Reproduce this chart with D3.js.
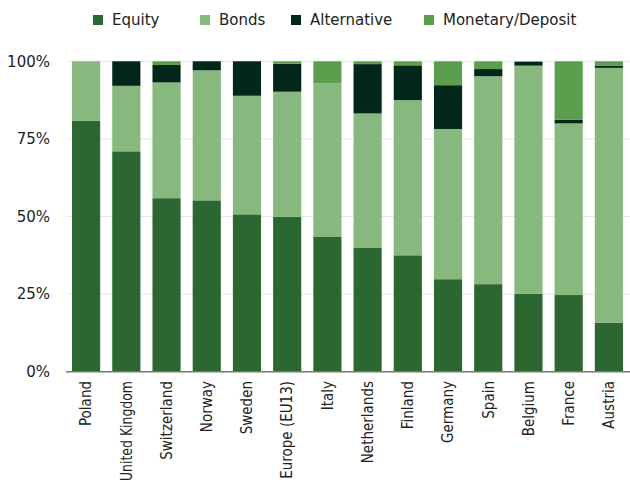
<!DOCTYPE html>
<html>
<head>
<meta charset="utf-8">
<script src="https://cdn.jsdelivr.net/npm/d3@7"></script>
<style>
  body { margin: 0; background: #fff; }
  text { font-family: "DejaVu Sans", sans-serif; fill: #222; }
  .xlab { font-family: "DejaVu Sans Condensed", "DejaVu Sans", sans-serif; font-stretch: condensed; }
</style>
</head>
<body>
<script>
const countries = ["Poland", "United Kingdom", "Switzerland", "Norway", "Sweden", "Europe (EU13)", "Italy",
    "Netherlands", "Finland", "Germany", "Spain", "Belgium", "France", "Austria"];
const equity      = [80.8, 71.0, 55.9, 55.2, 50.7, 49.9, 43.4, 40.0, 37.5, 29.8, 28.2, 25.1, 24.7, 15.8];
const bonds       = [19.2, 21.1, 37.3, 41.9, 38.2, 40.3, 49.5, 43.2, 50.0, 48.4, 67.0, 73.5, 55.3, 82.1];
const alternative = [0, 7.9, 5.6, 2.9, 11.1, 9.0, 0, 15.9, 11.2, 14.1, 2.3, 1.2, 1.2, 0.7];
const monetary    = [0, 0, 1.2, 0, 0, 0.8, 7.1, 0.9, 1.3, 7.7, 2.5, 0.2, 18.8, 1.4];
const seriesNames = ["Equity", "Bonds", "Alternative", "Monetary/Deposit"];
const yTicks = [0, 25, 50, 75, 100];

const colors = ["#2c6631", "#87b87e", "#03261a", "#5b9e4e"];

const width = 630, height = 492;
const svg = d3.select("body").append("svg")
    .attr("width", width)
    .attr("height", height);

const rows = countries.map((c, i) => ({
    country: c,
    "Equity": equity[i],
    "Bonds": bonds[i],
    "Alternative": alternative[i],
    "Monetary/Deposit": monetary[i]
}));
const stacked = d3.stack().keys(seriesNames)(rows);

const x = d3.scaleBand()
    .domain(countries)
    .range([66, 629])
    .paddingInner(0.3)
    .paddingOuter(0.15);

const y = d3.scaleLinear()
    .domain([0, 100])
    .range([371.7, 61.3]);

// gridlines
svg.append("g")
    .selectAll("line")
    .data(yTicks.filter(t => t > 0))
    .enter()
    .append("line")
    .attr("x1", 66)
    .attr("x2", 630)
    .attr("y1", d => y(d))
    .attr("y2", d => y(d))
    .attr("stroke", "#e6e6e6")
    .attr("stroke-width", 1);

// y labels
svg.append("g")
    .selectAll("text")
    .data(yTicks)
    .enter()
    .append("text")
    .attr("x", 50)
    .attr("y", d => y(d))
    .attr("dy", "0.35em")
    .attr("text-anchor", "end")
    .style("font-size", "15px")
    .text(d => d + "%");

// bars
svg.append("g")
    .selectAll("g")
    .data(stacked)
    .enter()
    .append("g")
    .attr("fill", (d, i) => colors[i])
    .selectAll("rect")
    .data(d => d)
    .enter()
    .append("rect")
    .attr("x", d => x(d.data.country))
    .attr("y", d => y(d[1]))
    .attr("width", x.bandwidth())
    .attr("height", d => y(d[0]) - y(d[1]));

// baseline
svg.append("line")
    .attr("x1", 66)
    .attr("x2", 630)
    .attr("y1", y(0))
    .attr("y2", y(0))
    .attr("stroke", "#777")
    .attr("stroke-width", 1.5);

// x labels, squeezed if still too long to fit
svg.append("g")
    .selectAll("text")
    .data(countries)
    .enter()
    .append("text")
    .attr("class", "xlab")
    .attr("transform", d => `translate(${x(d) + x.bandwidth() / 2},381) rotate(-90)`)
    .attr("dy", "0.35em")
    .attr("text-anchor", "end")
    .style("font-size", "15px")
    .text(d => d)
    .each(function() {
        if (this.getComputedTextLength() > 100) {
            d3.select(this).attr("textLength", 100).attr("lengthAdjust", "spacingAndGlyphs");
        }
    });

// legend
const legendX = [93, 200, 291, 424];
const legend = svg.append("g")
    .selectAll("g")
    .data(seriesNames)
    .enter()
    .append("g")
    .attr("transform", (d, i) => `translate(${legendX[i]},20)`);
legend.append("rect")
    .attr("x", 0)
    .attr("y", -5)
    .attr("width", 10)
    .attr("height", 10)
    .attr("fill", (d, i) => colors[i]);
legend.append("text")
    .attr("x", 19)
    .attr("y", 0)
    .attr("dy", "0.35em")
    .style("font-size", "15px")
    .text(d => d);
</script>
</body>
</html>
